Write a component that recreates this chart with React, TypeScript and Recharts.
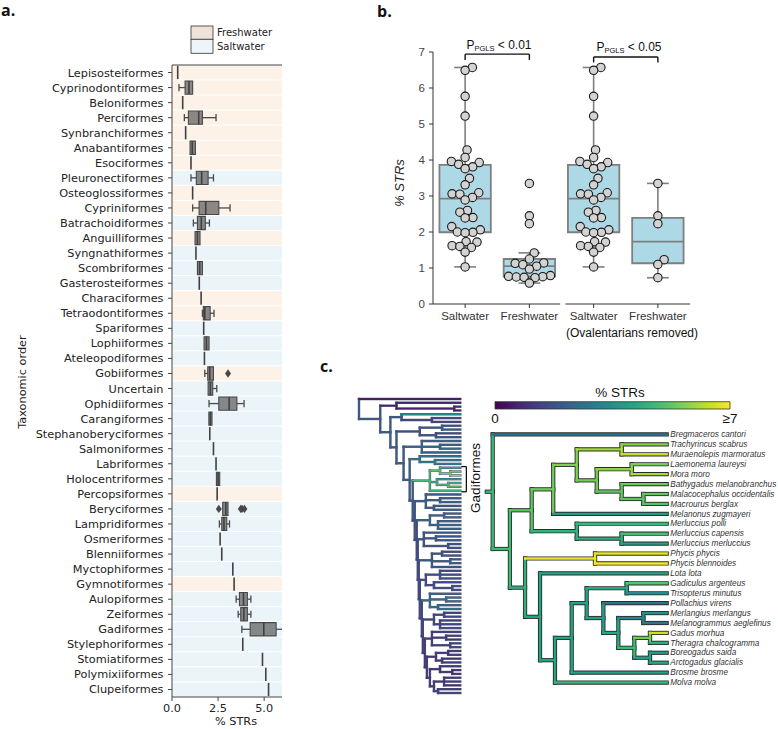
import React from "react";
import { ComposedChart, XAxis, YAxis, ReferenceArea, ReferenceLine, Scatter } from "recharts";

// ---------- panel a: % STRs per taxonomic order ----------
const ORDERS = [
  "Lepisosteiformes", "Cyprinodontiformes", "Beloniformes", "Perciformes", "Synbranchiformes",
  "Anabantiformes", "Esociformes", "Pleuronectiformes", "Osteoglossiformes", "Cypriniformes",
  "Batrachoidiformes", "Anguilliformes", "Syngnathiformes", "Scombriformes", "Gasterosteiformes",
  "Characiformes", "Tetraodontiformes", "Spariformes", "Lophiiformes", "Ateleopodiformes",
  "Gobiiformes", "Uncertain", "Ophidiiformes", "Carangiformes", "Stephanoberyciformes",
  "Salmoniformes", "Labriformes", "Holocentriformes", "Percopsiformes", "Beryciformes",
  "Lampridiformes", "Osmeriformes", "Blenniiformes", "Myctophiformes", "Gymnotiformes",
  "Aulopiformes", "Zeiformes", "Gadiformes", "Stylephoriformes", "Stomiatiformes",
  "Polymixiiformes", "Clupeiformes",
];
const HABITAT = [
  "F", "F", "F", "F", "F", "F", "F", "S", "F", "F",
  "S", "F", "S", "S", "S", "F", "F", "S", "S", "S",
  "F", "S", "S", "S", "S", "S", "S", "S", "F", "S",
  "S", "S", "S", "S", "F", "S", "S", "S", "S", "S",
  "S", "S",
];
const ORDER_MIN = [0.31, 0.38, 0.58, 0.67, 0.74, 0.98, 1.03, 1.03, 1.12, 1.12, 1.16, 1.25, 1.3, 1.38, 1.48, 1.58, 1.65, 1.72, 1.74, 1.76, 1.78, 1.96, 2.01, 2.0, 2.05, 2.25, 2.39, 2.41, 2.45, 2.75, 2.57, 2.61, 2.7, 3.3, 3.37, 3.48, 3.59, 3.79, 3.84, 4.91, 5.09, 5.24];
const ORDER_Q1 = [0.31, 0.71, 0.58, 0.89, 0.74, 0.98, 1.03, 1.32, 1.12, 1.47, 1.38, 1.25, 1.3, 1.38, 1.48, 1.58, 1.7, 1.72, 1.74, 1.76, 1.94, 1.96, 2.54, 2.0, 2.05, 2.25, 2.39, 2.41, 2.45, 2.75, 2.7, 2.61, 2.7, 3.3, 3.37, 3.66, 3.73, 4.24, 3.84, 4.91, 5.09, 5.24];
const ORDER_MED = [0.31, 0.92, 0.58, 1.45, 0.74, 1.1, 1.03, 1.61, 1.12, 1.83, 1.59, 1.38, 1.3, 1.5, 1.48, 1.58, 1.78, 1.72, 1.87, 1.76, 2.05, 2.08, 3.1, 2.08, 2.05, 2.25, 2.39, 2.5, 2.45, 2.92, 2.82, 2.61, 2.7, 3.3, 3.37, 3.88, 3.9, 4.98, 3.84, 4.91, 5.09, 5.24];
const ORDER_Q3 = [0.31, 1.12, 0.58, 1.65, 0.74, 1.27, 1.03, 1.96, 1.12, 2.54, 1.81, 1.52, 1.3, 1.65, 1.48, 1.58, 2.07, 1.72, 2.01, 1.76, 2.25, 2.21, 3.52, 2.17, 2.05, 2.25, 2.39, 2.59, 2.45, 3.04, 2.97, 2.61, 2.7, 3.3, 3.37, 4.09, 4.09, 5.65, 3.84, 4.91, 5.09, 5.24];
const ORDER_MAX = [0.31, 1.12, 0.58, 2.39, 0.74, 1.27, 1.03, 2.25, 1.12, 3.15, 2.03, 1.52, 1.3, 1.65, 1.48, 1.58, 2.28, 1.72, 2.01, 1.76, 2.25, 2.43, 3.91, 2.17, 2.05, 2.25, 2.39, 2.59, 2.45, 3.04, 3.12, 2.61, 2.7, 3.3, 3.37, 4.28, 4.28, 6.57, 3.84, 4.91, 5.09, 5.24];
const OUTLIER_ORDER = [20, 29, 29, 29, 29];
const OUTLIER_VALUE = [3.04, 2.54, 3.73, 3.8, 3.93];

const BAND_COLOR: Record<string, string> = { F: "#fdf2e8", S: "#ebf4f9" };

// ---------- panel b: saltwater vs freshwater ----------
const B_LABELS = ["Saltwater", "Freshwater", "Saltwater", "Freshwater"];
const SALTWATER_STR = [6.57, 6.49, 5.77, 5.22, 4.28, 4.07, 3.96, 3.93, 3.88, 3.81, 3.76, 3.49, 3.31, 3.09, 3.06, 3.05, 2.96, 2.89, 2.6, 2.55, 2.4, 2.39, 2.15, 2.06, 2.0, 1.99, 1.98, 1.73, 1.72, 1.62, 1.6, 1.57, 1.44, 1.03];
const FRESHWATER_STR = [3.35, 2.45, 2.23, 1.42, 1.25, 1.14, 1.13, 1.09, 1.05, 0.97, 0.79, 0.77, 0.76, 0.75, 0.74, 0.73, 0.58];
const FRESHWATER_NO_OVAL_STR = [3.35, 2.45, 2.23, 1.23, 1.1, 0.73];
const B_SERIES = [SALTWATER_STR, FRESHWATER_STR, SALTWATER_STR, FRESHWATER_NO_OVAL_STR];

// ---------- panel c: trees (node = [age, ...children], leaf = value / species index) ----------
const STR_CAP = 7;
const LEFT_GADI = [70, [80, 4.4, [90, 5.4, 5.9]], [77, 4.1, [88, 4.9, 5.2]], 4.6];
const LEFT_LOWER = [55,
  [66, 2.0, [80, 2.1, 2.3], [74, 1.9, 2.2]],
  [57,
    [70, [84, 2.4, 2.6], [78, 2.2, 2.5, 2.3]],
    [58,
      [64, 1.8, [76, 1.9, 2.0], [88, 1.7, 1.8]],
      [59,
        [72, [82, 1.6, 1.9], [90, 2.0, 2.2], 1.7],
        [60,
          [66, [80, 1.5, 1.6, 1.8], [74, 1.4, [92, 1.6, 1.5]]],
          [62,
            [70, 2.5, [86, 2.7, 2.6], [78, 2.4, 2.8]],
            [63,
              [74, [84, 1.3, 1.5], [80, 1.2, 1.4, 1.6]],
              [65,
                [72, 1.1, [86, 1.2, 1.0], [90, 1.3, 1.4]],
                [67,
                  [76, [88, 0.9, 1.1], [82, 1.0, 1.2]],
                  [70,
                    [80, 1.0, [92, 0.8, 0.9]],
                    [74, [84, 1.1, 1.2, 0.9], [78, 1.0, 1.3]],
                  ],
                ],
              ],
            ],
          ],
        ],
      ],
    ],
  ],
];
const BIG_TREE = [0,
  0.3,
  [21,
    [37, 0.5, [94, 0.7, 0.6]],
    [31,
      [42, 3.4, [72, 1.4, 1.2]],
      [37,
        [60, [82, 1.8, 2.0], [76, 1.6, 1.9]],
        [44,
          [62, 2.3, [80, 2.1, 2.5], 2.2],
          [50,
            [60, 2.7, [75, 2.9, 3.2]],
            [53, LEFT_GADI, LEFT_LOWER],
          ],
        ],
      ],
    ],
  ],
];

const GADI_SPECIES = [
  "Bregmaceros cantori", "Trachyrincus scabrus", "Muraenolepis marmoratus", "Laemonema laureysi",
  "Mora moro", "Bathygadus melanobranchus", "Malacocephalus occidentalis", "Macrourus berglax",
  "Melanonus zugmayeri", "Merluccius polli", "Merluccius capensis", "Merluccius merluccius",
  "Phycis phycis", "Phycis blennoides", "Lota lota", "Gadiculus argenteus", "Trisopterus minutus",
  "Pollachius virens", "Merlangius merlangus", "Melanogrammus aeglefinus", "Gadus morhua",
  "Theragra chalcogramma", "Boreogadus saida", "Arctogadus glacialis", "Brosme brosme", "Molva molva",
];
const GADI_STR = [2.7, 5.7, 6.4, 5.5, 6.1, 5.4, 5.3, 5.1, 3.9, 4.7, 4.9, 4.0, 6.7, 7.0, 4.2, 5.1, 3.4, 2.7, 3.5, 2.8, 6.5, 4.4, 3.8, 4.2, 4.0, 4.6];
const GADI_TREE = [0, 0,
  [9.9,
    [22.4,
      [34.8,
        [48.3,
          [74.1, 1, 2],
          [59.8, [79.9, 3, 4], [74.1, 5, [86.6, 6, 7]]],
        ],
        8,
      ],
      [48.3, 9, [74.1, 10, 11]],
    ],
    [18.6,
      [58.8, 12, 13],
      [27.2, 14,
        [35.8,
          [45.4,
            [54,
              [77, 15, 16],
              [63.6, 17, [72.2, [86.6, 18, 19], [81.4, [90.4, 20, 21], [90.4, 22, 23]]]],
            ],
            24,
          ],
          25,
        ],
      ],
    ],
  ],
];
const GADI_STEM = -3.4;

const VIRIDIS = ["#440154", "#482475", "#414487", "#355f8d", "#2a788e", "#21918c", "#22a884", "#44bf70", "#7ad151", "#bddf26", "#fde725"];

function viridis(v: number) {
  const t = Math.max(0, Math.min(1, v / STR_CAP)) * 10;
  const i = Math.min(9, Math.floor(t));
  const f = t - i;
  const a = VIRIDIS[i], b = VIRIDIS[i + 1];
  const ch = (h: string, k: number) => parseInt(h.slice(1 + 2 * k, 3 + 2 * k), 16);
  const mix = [0, 1, 2].map((k) => Math.round(ch(a, k) + (ch(b, k) - ch(a, k)) * f));
  return `rgb(${mix[0]},${mix[1]},${mix[2]})`;
}

type Seg = { x1: number; y1: number; x2: number; y2: number; v: number };

// node colour = mean of the leaf values below it
function layoutTree(tree: any[], leafValue: (leaf: number) => number, marked?: any[]) {
  const segs: Seg[] = [];
  const tips: { x: number; y: number }[] = [];
  let leaf = 0;
  let markRange: [number, number] | null = null;
  type R = { x: number; y: number; sum: number; n: number };
  const walk = (node: any): R => {
    if (typeof node === "number") {
      const y = leaf++;
      tips.push({ x: 100, y });
      return { x: 100, y, sum: leafValue(node), n: 1 };
    }
    const [age, ...kids] = node;
    const first = leaf;
    const res: R[] = kids.map(walk);
    if (node === marked) markRange = [first, leaf - 1];
    const y = (res[0].y + res[res.length - 1].y) / 2;
    const sum = res.reduce((s, r) => s + r.sum, 0);
    const n = res.reduce((s, r) => s + r.n, 0);
    segs.push({ x1: age, y1: res[0].y, x2: age, y2: res[res.length - 1].y, v: sum / n });
    res.forEach((r) => segs.push({ x1: age, y1: r.y, x2: r.x, y2: r.y, v: r.sum / r.n }));
    return { x: age, y, sum, n };
  };
  const r = walk(tree);
  const root = { y: r.y, v: r.sum / r.n };
  return { segs, root, tips, leaves: leaf, markRange: markRange as [number, number] | null };
}

function boxStats(values: number[]) {
  const s = [...values].sort((a, b) => a - b);
  const q = (p: number) => {
    const pos = p * (s.length - 1);
    const lo = Math.floor(pos);
    const hi = Math.min(lo + 1, s.length - 1);
    return s[lo] + (s[hi] - s[lo]) * (pos - lo);
  };
  const q1 = q(0.25), med = q(0.5), q3 = q(0.75), iqr = q3 - q1;
  const lo = s.find((v) => v >= q1 - 1.5 * iqr) as number;
  const hi = [...s].reverse().find((v) => v <= q3 + 1.5 * iqr) as number;
  return { q1, med, q3, lo, hi };
}

// beeswarm offsets (px) from the values
function swarm(values: number[], pxPerY: number, d: number) {
  const order = values.map((_, i) => i).sort((a, b) => values[a] - values[b]);
  const placed: { x: number; y: number }[] = [];
  const off: number[] = new Array(values.length).fill(0);
  for (const i of order) {
    const y = values[i] * pxPerY;
    const cands = [0];
    for (const p of placed) {
      const dy = Math.abs(p.y - y);
      if (dy < d) {
        const dx = Math.sqrt(d * d - dy * dy);
        cands.push(p.x + dx, p.x - dx);
      }
    }
    cands.sort((a, b) => Math.abs(a) - Math.abs(b));
    const x = cands.find((c) => placed.every((p) => (p.x - c) ** 2 + (p.y - y) ** 2 >= d * d - 0.01)) ?? 0;
    placed.push({ x, y });
    off[i] = x;
  }
  return off;
}

const seg = (key: string, x1: number, y1: number, x2: number, y2: number, stroke: string, w: number, extra: any = {}) => (
  <ReferenceLine key={key} segment={[{ x: x1, y: y1 }, { x: x2, y: y2 }]} stroke={stroke} strokeWidth={w} ifOverflow="visible" {...extra} />
);

const noShape = () => <g />;

function PanelA() {
  const H = 0.44, CAP = 0.24;
  const bands = ORDERS.map((_, i) => (
    <ReferenceArea key={`band${i}`} x1={0} x2={7} y1={i - 0.5} y2={i + 0.5} fill={BAND_COLOR[HABITAT[i]]} fillOpacity={1} stroke="#ffffff" strokeWidth={0.8} ifOverflow="hidden" />
  ));
  const boxes: any[] = [];
  ORDERS.forEach((_, i) => {
    const mn = ORDER_MIN[i], q1 = ORDER_Q1[i], md = ORDER_MED[i], q3 = ORDER_Q3[i], mx = ORDER_MAX[i];
    if (q1 > mn) {
      boxes.push(seg(`wl${i}`, mn, i, q1, i, "#4a4a4a", 1.3));
      boxes.push(seg(`cl${i}`, mn, i - CAP, mn, i + CAP, "#4a4a4a", 1.3));
    }
    if (mx > q3) {
      boxes.push(seg(`wr${i}`, q3, i, mx, i, "#4a4a4a", 1.3));
      boxes.push(seg(`cr${i}`, mx, i - CAP, mx, i + CAP, "#4a4a4a", 1.3));
    }
    if (q3 - q1 > 0.01) {
      boxes.push(
        <ReferenceArea key={`box${i}`} x1={q1} x2={q3} y1={i - H} y2={i + H} fill="#5a5a5a" fillOpacity={0.7} stroke="#484848" strokeWidth={1.1} />
      );
    }
    boxes.push(seg(`md${i}`, md, i - H, md, i + H, "#404040", 1.6));
  });
  const outliers = OUTLIER_ORDER.map((o, i) => ({ x: OUTLIER_VALUE[i], y: o }));
  return (
    <ComposedChart width={320} height={729} margin={{ top: 65, right: 19, bottom: 2, left: 12 }}>
      <XAxis type="number" dataKey="x" domain={[0, 7]} ticks={[0, 2.5, 5]} tickFormatter={(v: number) => v.toFixed(1)} height={30} tickSize={4} tickMargin={3} stroke="#444" tick={{ fontSize: 11.3, fill: "#222", fontFamily: "DejaVu Sans" }} allowDataOverflow />
      <YAxis type="number" dataKey="y" domain={[-0.5, ORDERS.length - 0.5]} reversed ticks={ORDERS.map((_, i) => i)} interval={0} tickFormatter={(i: number) => ORDERS[i]} width={160} tickSize={4} tickMargin={4.5} stroke="#444" tick={{ fontSize: 11.3, fill: "#222", fontFamily: "DejaVu Sans" }} allowDataOverflow />
      {bands}
      {boxes}
      <ReferenceLine y={-0.5} stroke="#444" strokeWidth={1} />
      <Scatter data={outliers} isAnimationActive={false} shape={(p: any) => (
        <path d={`M${p.cx},${p.cy - 4.2} L${p.cx + 3},${p.cy} L${p.cx},${p.cy + 4.2} L${p.cx - 3},${p.cy} Z`} fill="#484848" />
      )} />
    </ComposedChart>
  );
}

function PanelB() {
  const W = 400, Hh = 345, M = { top: 52, right: 50, bottom: 19, left: 63 };
  const plotH = Hh - M.top - M.bottom - 22;
  const plotW = W - M.left - M.right - 30;
  const pxPerY = plotH / 7, pxPerX = plotW / 4;
  const els: any[] = [];
  const pts: { x: number; y: number }[] = [];
  const BW = 0.4, CW = 0.17, C = "#7f7f7f";
  B_SERIES.forEach((vals, g) => {
    const c = g + 1;
    const st = boxStats(vals);
    els.push(seg(`wu${g}`, c, st.q3, c, st.hi, C, 1.6));
    els.push(seg(`wd${g}`, c, st.lo, c, st.q1, C, 1.6));
    els.push(seg(`cu${g}`, c - CW, st.hi, c + CW, st.hi, C, 1.6));
    els.push(seg(`cd${g}`, c - CW, st.lo, c + CW, st.lo, C, 1.6));
    els.push(<ReferenceArea key={`bx${g}`} x1={c - BW} x2={c + BW} y1={st.q1} y2={st.q3} fill="#add8e6" fillOpacity={1} stroke={C} strokeWidth={1.8} />);
    els.push(seg(`bm${g}`, c - BW, st.med, c + BW, st.med, C, 1.8));
    const off = swarm(vals, pxPerY, 7.8);
    vals.forEach((v, i) => pts.push({ x: c + off[i] / pxPerX, y: v }));
  });
  return (
    <ComposedChart width={W} height={Hh} margin={M}>
      <XAxis type="number" dataKey="x" domain={[0.5, 4.5]} ticks={[1, 2, 3, 4]} interval={0} tickFormatter={(v: number) => B_LABELS[v - 1]} axisLine={false} height={22} tickSize={4} tickMargin={4} stroke="#333" tick={{ fontSize: 11.5, fill: "#333", fontFamily: "Liberation Sans, Arial" }} />
      <YAxis type="number" dataKey="y" domain={[0, 7]} ticks={[0, 1, 2, 3, 4, 5, 6, 7]} width={30} tickSize={4} tickMargin={4} stroke="#333" tick={{ fontSize: 11.5, fill: "#444", fontFamily: "Liberation Sans, Arial" }} />
      {els}
      {seg("ax1", 0.5, 0, 2.48, 0, "#333", 1.2)}
      {seg("ax2", 2.56, 0, 4.5, 0, "#333", 1.2)}
      {seg("p1", 1, 6.94, 2, 6.94, "#111", 1.4)}
      {seg("p1a", 1, 6.94, 1, 6.78, "#111", 1.4)}
      {seg("p1b", 2, 6.94, 2, 6.78, "#111", 1.4)}
      {seg("p2", 3, 6.86, 4, 6.86, "#111", 1.4)}
      {seg("p2a", 3, 6.86, 3, 6.71, "#111", 1.4)}
      {seg("p2b", 4, 6.86, 4, 6.71, "#111", 1.4)}
      <Scatter data={pts} isAnimationActive={false} shape={(p: any) => (
        <circle cx={p.cx} cy={p.cy} r={4.2} fill="#d3d3d3" stroke="#1a1a1a" strokeWidth={1.1} />
      )} />
    </ComposedChart>
  );
}

function LeftTree() {
  const { segs, leaves, tips, markRange } = layoutTree(BIG_TREE, (v) => v, LEFT_GADI);
  const spacing = 294 / (leaves - 1);
  const outline = segs.map((s, i) => seg(`lo${i}`, s.x1, s.y1, s.x2, s.y2, "#4d5570", 2.4, { strokeLinecap: "square" }));
  const lines = segs.map((s, i) => seg(`lt${i}`, s.x1, s.y1, s.x2, s.y2, viridis(s.v), 1.3, { strokeLinecap: "square" }));
  const br: any[] = [];
  if (markRange) {
    const [a, b] = markRange;
    br.push(seg("bt", 101, a - 0.3, 106, a - 0.3, "#111", 1.3));
    br.push(seg("bb", 101, b + 0.3, 106, b + 0.3, "#111", 1.3));
    br.push(seg("bv", 106, a - 0.3, 106, b + 0.3, "#111", 1.3));
  }
  return (
    <ComposedChart width={140} height={310} data={tips} margin={{ top: 9 - spacing / 2, right: 19.7, bottom: 7 - spacing / 2, left: 19 }}>
      <XAxis type="number" dataKey="x" domain={[0, 100]} hide />
      <YAxis type="number" dataKey="y" domain={[-0.5, leaves - 0.5]} reversed hide />
      {outline}
      {lines}
      {br}
      <Scatter data={tips} isAnimationActive={false} shape={noShape} />
    </ComposedChart>
  );
}

function RightTree() {
  const { segs, root, tips } = layoutTree(GADI_TREE, (i) => GADI_STR[i]);
  const all = [...segs, { x1: GADI_STEM, y1: root.y, x2: 0, y2: root.y, v: root.v }];
  const outline = all.map((s, i) => seg(`ro${i}`, s.x1, s.y1, s.x2, s.y2, "#2b2b2b", 4.2, { strokeLinecap: "square" }));
  const color = all.map((s, i) => seg(`rc${i}`, s.x1, s.y1, s.x2, s.y2, viridis(s.v), 2.4, { strokeLinecap: "square" }));
  return (
    <ComposedChart width={308} height={320} data={tips} margin={{ top: 49.5, right: 6.3, bottom: 12.5, left: 14 }}>
      <XAxis type="number" dataKey="x" domain={[-5, 100]} hide />
      <YAxis type="number" dataKey="y" orientation="right" domain={[-0.5, GADI_SPECIES.length - 0.5]} reversed ticks={GADI_SPECIES.map((_, i) => i)} interval={0} width={105} axisLine={false} tickLine={false} tickSize={0} tickMargin={3.5}
        tick={(p: any) => (
          <text x={p.x} y={p.y} dy="0.33em" textAnchor="start" fontSize={8.2} fontStyle="italic" fill="#333" fontFamily="Liberation Sans, Arial">{GADI_SPECIES[p.payload.value]}</text>
        )} />
      {outline}
      {color}
      <Scatter data={tips} isAnimationActive={false} shape={noShape} />
    </ComposedChart>
  );
}

function ColorBar() {
  const ends = [{ x: 0, y: 0.5 }, { x: STR_CAP, y: 0.5 }];
  return (
    <ComposedChart width={270} height={52} data={ends} margin={{ top: 23.7, right: 20, bottom: 1, left: 15 }}>
      <defs>
        <linearGradient id="viridisGrad" x1="0" y1="0" x2="1" y2="0">
          {VIRIDIS.map((c, i) => <stop key={i} offset={`${i * 10}%`} stopColor={c} />)}
        </linearGradient>
      </defs>
      <XAxis type="number" dataKey="x" domain={[0, STR_CAP]} ticks={[0, STR_CAP]} tickFormatter={(v: number) => (v === STR_CAP ? "≥7" : "0")} axisLine={false} tickLine={false} tickSize={0} tickMargin={4} height={20} tick={{ fontSize: 13.5, fill: "#111", fontFamily: "Liberation Sans, Arial" }} />
      <YAxis type="number" dataKey="y" domain={[0, 1]} hide />
      <ReferenceArea x1={0} x2={STR_CAP} y1={0} y2={1} fill="url(#viridisGrad)" fillOpacity={1} stroke="#333" strokeWidth={0.8} />
      <Scatter data={ends} isAnimationActive={false} shape={noShape} />
    </ComposedChart>
  );
}

export default function App() {
  const sans = "Liberation Sans, Arial, sans-serif";
  return (
    <div style={{ position: "absolute", left: 0, top: 0, width: 778, height: 729, background: "#fff", overflow: "hidden" }}>
      <div style={{ position: "absolute", left: 0, top: 0, width: 282, height: 729, overflow: "hidden" }}>
        <PanelA />
      </div>
      <div style={{ position: "absolute", left: 340, top: 0 }}>
        <PanelB />
      </div>
      <div style={{ position: "absolute", left: 340, top: 390 }}>
        <LeftTree />
      </div>
      <div style={{ position: "absolute", left: 470, top: 380 }}>
        <RightTree />
      </div>
      <div style={{ position: "absolute", left: 480, top: 378 }}>
        <ColorBar />
      </div>
      <svg width={778} height={729} style={{ position: "absolute", left: 0, top: 0, pointerEvents: "none" }}>
        <text x={1} y={16} fontSize={16} fontWeight="bold" fontFamily="Open Sans, sans-serif" fill="#111">a.</text>
        <text x={377} y={17} fontSize={16} fontWeight="bold" fontFamily="Open Sans, sans-serif" fill="#111">b.</text>
        <text x={320} y={372} fontSize={16} fontWeight="bold" fontFamily="Open Sans, sans-serif" fill="#111">c.</text>

        <rect x={191} y={26} width={22} height={13.3} fill="#eee2d9" stroke="#333" strokeWidth={0.8} />
        <rect x={191} y={39.3} width={22} height={14} fill="#eef5fa" stroke="#333" strokeWidth={0.8} />
        <text x={217} y={36} fontSize={10} fontFamily="DejaVu Sans" fill="#222">Freshwater</text>
        <text x={217} y={50} fontSize={10} fontFamily="DejaVu Sans" fill="#222">Saltwater</text>
        <text x={23} y={382} fontSize={11.3} fontFamily="DejaVu Sans" fill="#222" textAnchor="middle" dominantBaseline="middle" transform="rotate(-90 23 382)">Taxonomic order</text>
        <text x={236} y={725} fontSize={11.3} fontFamily="DejaVu Sans" fill="#222" textAnchor="middle">% STRs</text>

        <text x={401} y={183} fontSize={13} fontStyle="italic" fontFamily={sans} fill="#222" textAnchor="middle" dominantBaseline="middle" transform="rotate(-90 401 183)">% STRs</text>
        <text x={499} y={49.3} fontSize={12} fontFamily={sans} fill="#111" textAnchor="middle">
          <tspan>P</tspan><tspan fontSize={7.5} dy={2}>PGLS</tspan><tspan dy={-2}> &lt; 0.01</tspan>
        </text>
        <text x={629} y={50.7} fontSize={12} fontFamily={sans} fill="#111" textAnchor="middle">
          <tspan>P</tspan><tspan fontSize={7.5} dy={2}>PGLS</tspan><tspan dy={-2}> &lt; 0.05</tspan>
        </text>
        <text x={632} y={337} fontSize={12} fontFamily={sans} fill="#111" textAnchor="middle">(Ovalentarians removed)</text>

        <text x={620} y={396.5} fontSize={13.5} fontFamily={sans} fill="#111" textAnchor="middle">% STRs</text>
        <text x={476.5} y={478} fontSize={13.5} fontFamily={sans} fill="#111" textAnchor="middle" dominantBaseline="middle" transform="rotate(-90 476.5 478)">Gadiformes</text>
      </svg>
    </div>
  );
}
